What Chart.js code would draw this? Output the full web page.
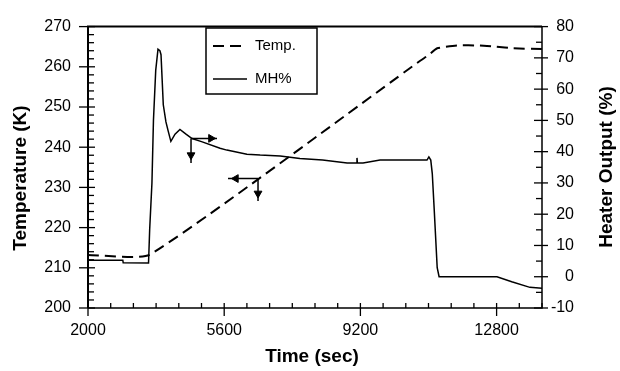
<!DOCTYPE html>
<html>
<head>
<meta charset="utf-8">
<script src="https://cdn.jsdelivr.net/npm/chart.js@4.4.0/dist/chart.umd.min.js"></script>
<style>
  body { margin: 0; background: #fff; }
  #wrap { width: 620px; height: 371px; }
</style>
</head>
<body>
<div id="wrap"><canvas id="customChart" width="620" height="371"></canvas></div>
<script>
// Temp. (K) against time (sec)
let tempTime = [2000, 3620, 10780, 11000, 11230, 11750, 12360, 12800, 13230, 14000];
let tempK = [213.2, 213.2, 261.5, 262.9, 264.6, 265.3, 265.3, 265.0, 264.6, 264.4];

// MH% (heater output) against time (sec)
let heatTime = [2000, 2920, 2930, 3600, 3630, 3690, 3730, 3790, 3850, 3900, 3930, 3960, 3990, 4060, 4115, 4190,
  4300, 4430, 4590, 4750, 5000, 5490, 5670, 6200, 6550, 7080, 7600, 8200, 8850, 9100, 9110, 9120, 9270, 9720,
  10960, 11010, 11060, 11100, 11150, 11230, 11280, 12810, 13200, 13680, 14000];
let heatPct = [5.3, 5.3, 4.5, 4.4, 15, 30, 50, 66, 72.8, 72.3, 71, 63, 55, 49.5, 46.8, 43.3,
  45.6, 47.1, 45.6, 44.2, 43.2, 41.1, 40.5, 39.2, 38.9, 38.6, 37.8, 37.3, 36.4, 36.4, 38, 36.4, 36.4, 37.3,
  37.3, 38.3, 37.3, 33, 21.7, 2.9, 0, 0, -1.6, -3.4, -3.7];

// arrows: [start, head, end]
let arrow1H = { x: [4723, 5250, 5410], y: [44.25, 44.25, 44.25] };
let arrow1V = { x: [4723, 4723, 4723], y: [44.25, 38.9, 36.4] };
let arrow2H = { x: [6494, 5910, 5701], y: [232.2, 232.2, 232.2] };
let arrow2V = { x: [6494, 6494, 6494], y: [232.2, 228.5, 226.6] };

let xTicks = [2000, 5600, 9200, 12800];

const font = 'Liberation Sans, Arial, Helvetica, sans-serif';
Chart.defaults.font.family = font;
Chart.defaults.color = '#000';

function pts(xs, ys) {
  return xs.map((x, i) => ({ x: x, y: ys[i] }));
}

function arrowSet(a, axis, rot) {
  return {
    data: pts(a.x, a.y),
    yAxisID: axis,
    borderColor: '#000',
    borderWidth: 1.5,
    pointRadius: [0, 4.5, 0],
    pointStyle: 'triangle',
    rotation: rot,
    pointBackgroundColor: '#000',
    pointBorderColor: '#000',
    pointBorderWidth: 1,
    tension: 0
  };
}

function drawTicks(c, scale, horizontal, from, to, minor, major, edge, inMin, inMaj, outMaj) {
  let n = Math.round((to - from) / minor);
  for (let k = 0; k <= n; k++) {
    let v = from + k * minor;
    let isMajor = Math.abs(((v - from) / major) - Math.round((v - from) / major)) < 1e-6;
    let p = scale.getPixelForValue(v);
    let inside = isMajor ? inMaj : inMin;
    let outside = isMajor ? outMaj : 0;
    c.beginPath();
    if (horizontal) {
      c.moveTo(p, edge + outside);
      c.lineTo(p, edge - inside);
    } else if (edge < 300) {
      c.moveTo(edge - outside, p);
      c.lineTo(edge + inside, p);
    } else {
      c.moveTo(edge + outside, p);
      c.lineTo(edge - inside, p);
    }
    c.stroke();
  }
}

const frameAndTicks = {
  id: 'frameAndTicks',
  afterDraw(chart) {
    const c = chart.ctx, a = chart.chartArea;
    const sx = chart.scales.x, sl = chart.scales.yT, sr = chart.scales.yH;
    c.save();
    c.strokeStyle = '#000';
    c.lineWidth = 1.3;
    drawTicks(c, sx, true, 2000, 14000, 600, 3600, a.bottom, 5, 5, 8);
    drawTicks(c, sl, false, 200, 270, 2, 10, a.left, 6, 7, 9);
    drawTicks(c, sr, false, -10, 80, 5, 10, a.right, 6, 8, 6);

    // frame
    c.lineWidth = 2;
    c.beginPath();
    c.moveTo(a.left, a.bottom);
    c.lineTo(a.left, a.top);
    c.lineTo(a.right, a.top);
    c.stroke();
    c.lineWidth = 1.5;
    c.beginPath();
    c.moveTo(a.right, a.top);
    c.lineTo(a.right, a.bottom);
    c.lineTo(a.left, a.bottom);
    c.stroke();

    c.fillStyle = '#000';
    // right axis tick labels, right aligned
    c.font = '16px ' + font;
    c.textAlign = 'right';
    c.textBaseline = 'middle';
    sr.ticks.forEach(t => {
      c.fillText(String(t.value), a.right + 32, sr.getPixelForValue(t.value));
    });

    // axis titles
    c.font = 'bold 19px ' + font;
    c.textAlign = 'center';
    c.fillText('Time (sec)', 312, 357);
    c.save();
    c.translate(21, 178);
    c.rotate(-Math.PI / 2);
    c.fillText('Temperature (K)', 0, 0);
    c.restore();
    c.save();
    c.translate(607, 167);
    c.rotate(-Math.PI / 2);
    c.fillText('Heater Output (%)', 0, 0);
    c.restore();

    // legend box
    c.lineWidth = 1.5;
    c.strokeRect(206, 28, 111, 66);
    const ds = chart.data.datasets;
    [[ds[0], 46], [ds[1], 79]].forEach(([d, y]) => {
      c.save();
      c.lineWidth = d.borderWidth;
      c.setLineDash(d.borderDash || []);
      c.beginPath();
      c.moveTo(213, y);
      c.lineTo(247, y);
      c.stroke();
      c.restore();
      c.font = '15px ' + font;
      c.textAlign = 'left';
      c.fillText(d.label, 255, y);
    });
    c.restore();
  }
};

let ctx = document.getElementById('customChart').getContext('2d');

let myChart = new Chart(ctx, {
  type: 'line',
  data: {
    datasets: [{
      label: 'Temp.',
      data: pts(tempTime, tempK),
      yAxisID: 'yT',
      borderColor: '#000',
      borderWidth: 2,
      borderDash: [11, 6],
      pointRadius: 0,
      tension: 0.15
    }, {
      label: 'MH%',
      data: pts(heatTime, heatPct),
      yAxisID: 'yH',
      borderColor: '#000',
      borderWidth: 1.5,
      pointRadius: 0,
      tension: 0
    },
    arrowSet(arrow1H, 'yH', 90),
    arrowSet(arrow1V, 'yH', 180),
    arrowSet(arrow2H, 'yT', 270),
    arrowSet(arrow2V, 'yT', 180)]
  },
  options: {
    responsive: false,
    animation: false,
    devicePixelRatio: 1,
    layout: { padding: { top: 20, left: 0, right: 0, bottom: 0 } },
    plugins: {
      legend: { display: false },
      tooltip: { enabled: false }
    },
    scales: {
      x: {
        type: 'linear',
        min: 2000,
        max: 14000,
        grid: { display: false, drawTicks: false },
        border: { display: false },
        ticks: { font: { size: 16 }, color: '#000', padding: 13, maxRotation: 0, callback: (v) => String(v) },
        afterBuildTicks: (s) => { s.ticks = xTicks.map(v => ({ value: v })); },
        afterFit: (s) => { s.height = 63; }
      },
      yT: {
        position: 'left',
        min: 200,
        max: 270,
        grid: { display: false, drawTicks: false },
        border: { display: false },
        ticks: { stepSize: 10, font: { size: 16 }, color: '#000', padding: 17 },
        afterFit: (s) => { s.width = 88; }
      },
      yH: {
        position: 'right',
        min: -10,
        max: 80,
        grid: { display: false, drawTicks: false },
        border: { display: false },
        ticks: { stepSize: 10, display: false },
        afterFit: (s) => { s.width = 78; }
      }
    }
  },
  plugins: [frameAndTicks]
});
</script>
</body>
</html>
